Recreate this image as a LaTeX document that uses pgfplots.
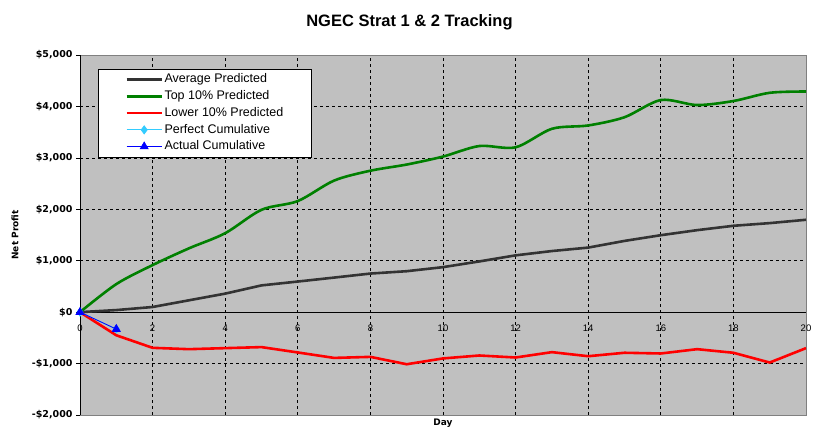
\documentclass[border=0pt]{standalone}
\usepackage{pgfplots}
\pgfplotsset{compat=1.18}
\usepackage{fontspec}
\setmainfont{Liberation Sans}
\newfontfamily\dejavu{DejaVu Sans}
\definecolor{plotbg}{RGB}{192,192,192}
\definecolor{avgc}{RGB}{51,51,51}
\definecolor{topc}{RGB}{0,128,0}
\definecolor{lowc}{RGB}{255,0,0}
\definecolor{perfc}{RGB}{51,204,255}
\definecolor{actc}{RGB}{0,0,255}
\definecolor{bordc}{RGB}{128,128,128}
\begin{document}
\begin{tikzpicture}
\useasboundingbox (0,0) rectangle (819pt,438pt);
\begin{axis}[
  at={(80pt,23pt)}, anchor=south west,
  scale only axis, width=726pt, height=360pt,
  xmin=0, xmax=20, ymin=-2000, ymax=5000,
  /pgf/number format/assume math mode=true,
  axis background/.style={fill=plotbg},
  axis line style={draw=bordc, line width=0.8pt},
  xtick={0,2,...,20},
  ytick={-2000,-1000,0,1000,2000,3000,4000,5000},
  yticklabels={{-\$2,000},{-\$1,000},{\$0},{\$1,000},{\$2,000},{\$3,000},{\$4,000},{\$5,000}},
  grid=major,
  major grid style={black, line width=0.7pt, dash pattern=on 3pt off 3pt},
  xtick style={draw=none},
  ytick style={black, line width=0.7pt},
  ytick pos=left,
  tick align=outside,
  major tick length=4pt,
  y tick label style={font=\dejavu\bfseries\fontsize{9.5}{11}\selectfont},
  x tick label style={font=\fontsize{9.5}{11}\selectfont, yshift=98pt},
  extra x ticks={0}, extra x tick labels={},
  extra x tick style={grid=major, major grid style={solid, black, line width=0.8pt}},
  extra y ticks={0}, extra y tick labels={},
  extra y tick style={grid=major, major grid style={solid, black, line width=0.8pt}},
  title={NGEC Strat 1 \& 2 Tracking},
  every axis title/.style={at={(axis description cs:0.4538,1.0917)}, anchor=center,
    font=\bfseries\fontsize{16.5}{18}\selectfont},
  xlabel={Day},
  every axis x label/.style={at={(axis description cs:0.5,-0.022)}, anchor=center,
    font=\dejavu\bfseries\fontsize{9}{10}\selectfont},
  ylabel={Net Profit},
  every axis y label/.style={at={(axis description cs:-0.0895,0.5)}, rotate=90, anchor=center,
    font=\dejavu\bfseries\fontsize{9}{10}\selectfont},
  legend cell align=left,
  legend image code/.code={
    \draw[mark repeat=2,mark phase=2,#1] plot coordinates {(0pt,0pt) (17.5pt,0pt) (35pt,0pt)};
  },
  legend style={at={(0.0248,0.961)}, anchor=north west, draw=black, line width=0.8pt, fill=white,
    font=\fontsize{12.5}{14}\selectfont, inner xsep=27pt, inner ysep=3.5pt, row sep=3pt,
    nodes={inner xsep=1.5pt, inner ysep=1pt, text height=9pt, text depth=2.7pt}},
]
\addplot[avgc, line width=2.6pt] coordinates {
 (0,0) (1,40) (2,100) (3,230) (4,360) (5,520) (6,595) (7,672) (8,750) (9,796) (10,875)
 (11,986) (12,1104) (13,1188) (14,1255) (15,1385) (16,1496) (17,1594) (18,1679) (19,1731) (20,1796)};
\addlegendentry{Average Predicted}
\addplot[topc, line width=2.6pt, smooth] coordinates {
 (0,0) (1,545) (2,915) (3,1240) (4,1535) (5,1990) (6,2160) (7,2558) (8,2750) (9,2870) (10,3025)
 (11,3230) (12,3205) (13,3565) (14,3630) (15,3790) (16,4124) (17,4027) (18,4105) (19,4265) (20,4290)};
\addlegendentry{Top 10\% Predicted}
\addplot[lowc, line width=2.6pt] coordinates {
 (0,0) (1,-450) (2,-694) (3,-720) (4,-700) (5,-680) (6,-784) (7,-890) (8,-870) (9,-1013) (10,-900)
 (11,-843) (12,-882) (13,-778) (14,-857) (15,-790) (16,-804) (17,-720) (18,-790) (19,-980) (20,-700)};
\addlegendentry{Lower 10\% Predicted}
\addplot[perfc, line width=0.8pt, mark=diamond*, mark size=4pt, mark options={fill=perfc, draw=perfc}] coordinates {
 (0,0) (1,-330)};
\addlegendentry{Perfect Cumulative}
\addplot[actc, line width=0.8pt, mark=triangle*, mark size=4.5pt, mark options={fill=actc, draw=actc}] coordinates {
 (0,0) (1,-330)};
\addlegendentry{Actual Cumulative}
\end{axis}
\end{tikzpicture}
\end{document}
